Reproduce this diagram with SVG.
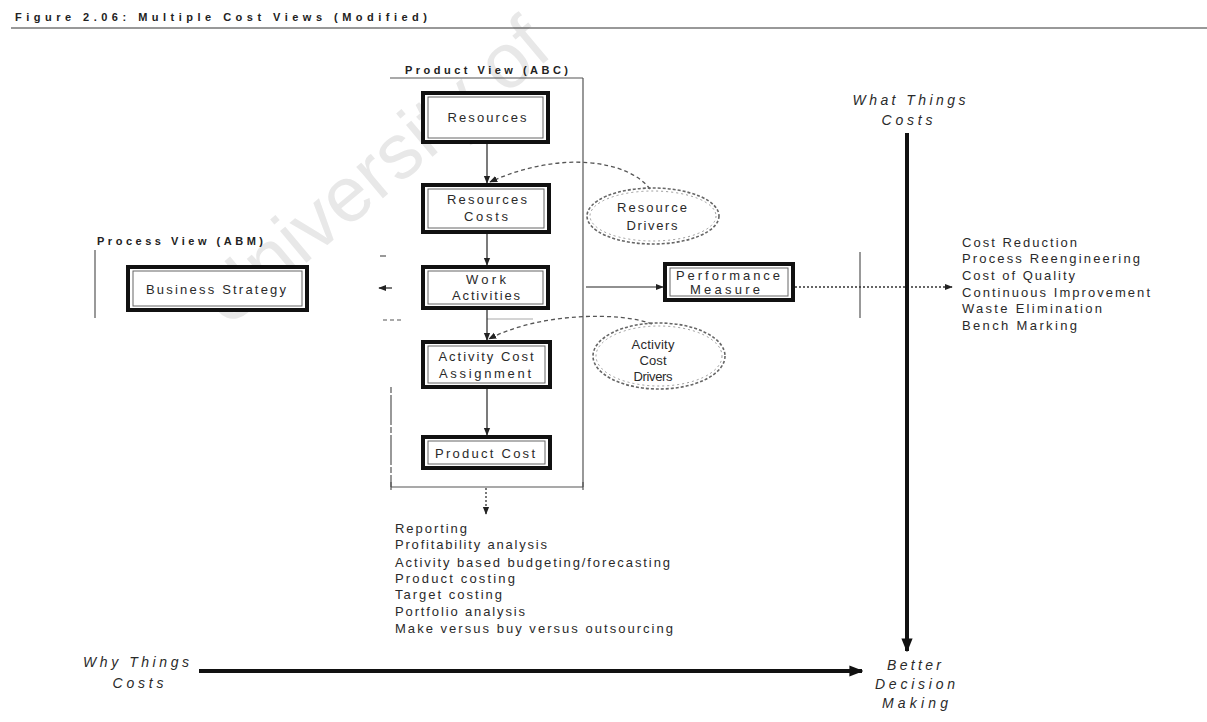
<svg xmlns="http://www.w3.org/2000/svg" width="1207" height="722" viewBox="0 0 1207 722">
  <defs>
    <marker id="arr" viewBox="0 0 10 10" refX="9" refY="5" markerWidth="8" markerHeight="8" markerUnits="userSpaceOnUse" orient="auto">
      <path d="M0,1 L10,5 L0,9 z" fill="#222"/>
    </marker>
    <marker id="arrBig" viewBox="0 0 10 10" refX="9" refY="5" markerWidth="14" markerHeight="14" markerUnits="userSpaceOnUse" orient="auto">
      <path d="M0,1 L10,5 L0,9 z" fill="#111"/>
    </marker>
  </defs>
  <style>
    .t{font-family:"Liberation Sans",Arial,sans-serif;font-size:13px;fill:#2a2a2a}
    .c{text-anchor:middle}
    .b{font-weight:bold;font-size:11px;fill:#222}
    .i{font-style:italic;font-size:14px}
    .box{fill:#fff;stroke:#111;stroke-width:4}
    .inner{fill:none;stroke:#666;stroke-width:1}
    .ln{stroke:#222;stroke-width:1.2;fill:none}
    .frame{stroke:#555;stroke-width:1.2;fill:none}
    .dash{stroke:#555;stroke-width:1.3;fill:none;stroke-dasharray:4 3}
    .dot{stroke:#333;stroke-width:1.3;fill:none;stroke-dasharray:2 2}
    .ell{fill:none;stroke:#666;stroke-width:1.6;stroke-dasharray:3 2}
    .ell2{fill:#fff;stroke:#999;stroke-width:1;stroke-dasharray:2 3}
    .thick{stroke:#111;stroke-width:4;fill:none}
    .wm{font-family:"Liberation Sans",Arial,sans-serif;font-size:78px;fill:#e8e8e8}
  </style>

  <rect x="0" y="0" width="1207" height="722" fill="#fff"/>

  <!-- faint watermark -->
  <text class="wm" x="226" y="330" transform="rotate(-40 226 330)">University of</text>

  <!-- heading -->
  <g id="heading">
    <text class="t b" x="15" y="21" font-size="12" textLength="412" lengthAdjust="spacing">Figure 2.06: Multiple Cost Views (Modified)</text>
    <line x1="11" y1="28" x2="1207" y2="28" stroke="#333" stroke-width="1"/>
  </g>

  <!-- view frames -->
  <g id="product-view">
    <text class="t b" x="405" y="74" textLength="163" lengthAdjust="spacing">Product View (ABC)</text>
    <path class="frame" d="M390 78 H583 M583 78 V487 M391 487 H583"/>
    <path class="frame" d="M391 387 V487" stroke-dasharray="6 2 30 2"/>
    <path class="frame" d="M391 482 V490 M583 482 V490"/>
  </g>
  <g id="process-view">
    <text class="t b" x="97" y="245" textLength="166" lengthAdjust="spacing">Process View (ABM)</text>
    <path class="frame" d="M95 250 V318"/>
    <path class="frame" d="M860 252 V318"/>
    <path class="frame" d="M380 256 H386"/>
    <path class="frame" d="M383 320 H402" stroke-dasharray="4 3"/>
    <path d="M487 319 H533" stroke="#aaa" stroke-width="1.2"/>
  </g>

  <!-- connectors -->
  <g id="connectors">
    <path class="ln" d="M487 143 V183" marker-end="url(#arr)"/>
    <path class="ln" d="M487 233 V265" marker-end="url(#arr)"/>
    <path class="ln" d="M487 309 V340" marker-end="url(#arr)"/>
    <path class="ln" d="M487 388 V435" marker-end="url(#arr)"/>
    <path class="ln" d="M586 287 H663" marker-end="url(#arr)"/>
    <path class="ln" d="M392 288 H379" marker-end="url(#arr)"/>
    <path class="dot" d="M795 287 H952" marker-end="url(#arr)"/>
    <path class="dot" d="M486 488 V514" marker-end="url(#arr)"/>
    <path class="dash" d="M650 189 C 628 160 560 150 490 182" marker-end="url(#arr)"/>
    <path class="dash" d="M652 324 C 622 312 540 312 489 339" marker-end="url(#arr)"/>
    <path class="thick" d="M907 133 V651" marker-end="url(#arrBig)"/>
    <path class="thick" d="M199 671 H862" stroke-width="3" marker-end="url(#arrBig)"/>
  </g>

  <!-- product view chain -->
  <g id="resources">
    <rect class="box" x="423" y="93" width="125" height="49"/>
    <rect class="inner" x="428" y="97" width="115" height="41"/>
    <text class="t c" x="487" y="122" textLength="79" lengthAdjust="spacing">Resources</text>
  </g>
  <g id="resources-costs">
    <rect class="box" x="423" y="185" width="126" height="47"/>
    <rect class="inner" x="428" y="189" width="116" height="39"/>
    <text class="t c" x="487" y="204" textLength="80" lengthAdjust="spacing">Resources</text>
    <text class="t c" x="486" y="221" textLength="44" lengthAdjust="spacing">Costs</text>
  </g>
  <g id="work-activities">
    <rect class="box" x="423" y="267" width="125" height="41"/>
    <rect class="inner" x="428" y="271" width="115" height="33"/>
    <text class="t c" x="486" y="284" textLength="40" lengthAdjust="spacing">Work</text>
    <text class="t c" x="486" y="300" textLength="68" lengthAdjust="spacing">Activities</text>
  </g>
  <g id="activity-cost-assignment">
    <rect class="box" x="423" y="342" width="127" height="45"/>
    <rect class="inner" x="428" y="346" width="117" height="37"/>
    <text class="t c" x="486" y="361" textLength="95" lengthAdjust="spacing">Activity Cost</text>
    <text class="t c" x="485" y="378" textLength="92" lengthAdjust="spacing">Assignment</text>
  </g>
  <g id="product-cost">
    <rect class="box" x="423" y="437" width="127" height="31"/>
    <rect class="inner" x="428" y="441" width="117" height="23"/>
    <text class="t c" x="485" y="458" textLength="100" lengthAdjust="spacing">Product Cost</text>
  </g>

  <!-- process view nodes -->
  <g id="business-strategy">
    <rect class="box" x="128" y="267" width="179" height="43"/>
    <rect class="inner" x="133" y="271" width="169" height="35"/>
    <text class="t c" x="216" y="294" textLength="140" lengthAdjust="spacing">Business Strategy</text>
  </g>
  <g id="performance-measure">
    <rect class="box" x="665" y="264" width="128" height="36"/>
    <rect class="inner" x="670" y="268" width="118" height="28"/>
    <text class="t c" x="728" y="280" font-size="11" textLength="104" lengthAdjust="spacing">Performance</text>
    <text class="t c" x="725" y="294" font-size="11" textLength="70" lengthAdjust="spacing">Measure</text>
  </g>

  <!-- cost drivers -->
  <g id="resource-drivers">
    <ellipse class="ell2" cx="653" cy="216" rx="63" ry="25"/>
    <ellipse class="ell" cx="653" cy="216" rx="66" ry="28"/>
    <text class="t c" x="652" y="212" textLength="70" lengthAdjust="spacing">Resource</text>
    <text class="t c" x="652" y="230" textLength="51" lengthAdjust="spacing">Drivers</text>
  </g>
  <g id="activity-cost-drivers">
    <ellipse class="ell2" cx="659" cy="356" rx="63" ry="30"/>
    <ellipse class="ell" cx="659" cy="356" rx="66" ry="33"/>
    <text class="t c" x="653" y="349" font-size="12" textLength="43" lengthAdjust="spacing">Activity</text>
    <text class="t c" x="653" y="365" font-size="12" textLength="27" lengthAdjust="spacing">Cost</text>
    <text class="t c" x="653" y="381" font-size="12" textLength="39" lengthAdjust="spacing">Drivers</text>
  </g>

  <!-- axis labels -->
  <g id="what-things-costs">
    <text class="t i c" x="909" y="105" textLength="113" lengthAdjust="spacing">What Things</text>
    <text class="t i c" x="907" y="125" textLength="51" lengthAdjust="spacing">Costs</text>
  </g>
  <g id="why-things-costs">
    <text class="t i c" x="136" y="667" textLength="106" lengthAdjust="spacing">Why Things</text>
    <text class="t i c" x="138" y="688" textLength="51" lengthAdjust="spacing">Costs</text>
  </g>
  <g id="better-decision-making">
    <text class="t i c" x="914" y="670" textLength="54" lengthAdjust="spacing">Better</text>
    <text class="t i c" x="915" y="689" textLength="80" lengthAdjust="spacing">Decision</text>
    <text class="t i c" x="915" y="708" textLength="66" lengthAdjust="spacing">Making</text>
  </g>

  <!-- outcome lists -->
  <g id="process-outcomes">
    <text class="t" x="962" y="247" textLength="115" lengthAdjust="spacing">Cost Reduction</text>
    <text class="t" x="962" y="263" textLength="178" lengthAdjust="spacing">Process Reengineering</text>
    <text class="t" x="962" y="280" textLength="113" lengthAdjust="spacing">Cost of Quality</text>
    <text class="t" x="962" y="297" textLength="188" lengthAdjust="spacing">Continuous Improvement</text>
    <text class="t" x="962" y="313" textLength="140" lengthAdjust="spacing">Waste Elimination</text>
    <text class="t" x="962" y="330" textLength="115" lengthAdjust="spacing">Bench Marking</text>
  </g>
  <g id="product-outcomes">
    <text class="t" x="395" y="533" textLength="72" lengthAdjust="spacing">Reporting</text>
    <text class="t" x="395" y="549" textLength="152" lengthAdjust="spacing">Profitability analysis</text>
    <text class="t" x="395" y="567" textLength="275" lengthAdjust="spacing">Activity based budgeting/forecasting</text>
    <text class="t" x="395" y="583" textLength="120" lengthAdjust="spacing">Product costing</text>
    <text class="t" x="395" y="599" textLength="107" lengthAdjust="spacing">Target costing</text>
    <text class="t" x="395" y="616" textLength="130" lengthAdjust="spacing">Portfolio analysis</text>
    <text class="t" x="395" y="633" textLength="278" lengthAdjust="spacing">Make versus buy versus outsourcing</text>
  </g>
</svg>
